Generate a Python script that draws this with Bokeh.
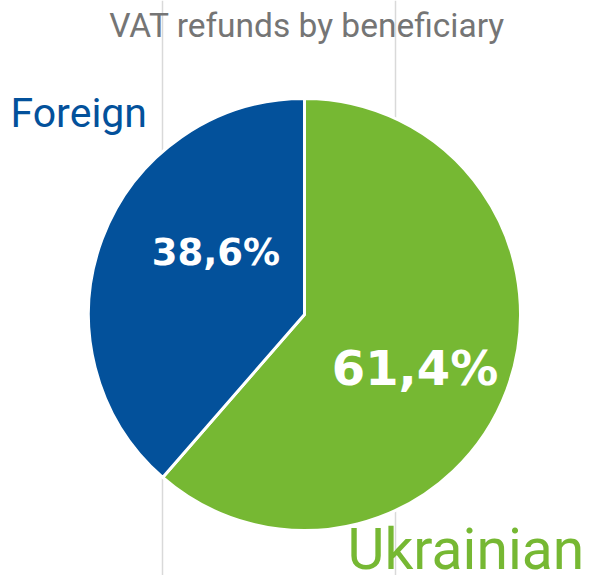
import math
from bokeh.plotting import figure
from bokeh.models import Range1d, ColumnDataSource, Span
from bokeh.core.properties import value
from bokeh.embed import file_html
from bokeh.resources import INLINE

# ---- data ----
categories = ["Ukrainian", "Foreign"]
shares = [61.4, 38.6]
slice_colors = ["#76B833", "#03519B"]
title_text = "VAT refunds by beneficiary"

# ---- layout (picture pixel coords; y data = 575 - picture y) ----
W, H = 592, 575
p = figure(width=W, height=H, output_backend="svg", toolbar_location=None,
           x_range=Range1d(0, W), y_range=Range1d(0, H),
           min_border=0, outline_line_color=None)
p.axis.visible = False
p.grid.visible = False
p.background_fill_color = "white"
p.border_fill_color = "white"

# light vertical gridlines behind the pie
for gx in (162, 395):
    p.add_layout(Span(location=gx, dimension="height", line_color="#d9d9d9",
                      line_width=1.5, level="underlay"))

cx, cy, r = 304, 261, 216
total = sum(shares)
starts, ends = [], []
cum = 0.0
for s in shares:
    starts.append(math.pi / 2 - 2 * math.pi * cum / total)
    cum += s
    ends.append(math.pi / 2 - 2 * math.pi * cum / total)

src = ColumnDataSource(dict(x=[cx] * len(shares), y=[cy] * len(shares),
                            start=starts, end=ends, color=slice_colors))
p.wedge(x="x", y="y", radius=r, radius_units="screen", start_angle="start",
        end_angle="end", direction="clock", fill_color="color",
        line_color="white", line_width=3, source=src)

def pct(v):
    return f"{v:.1f}".replace(".", ",") + "%"

# percentage labels
pct_x = [414.5, 215.5]
pct_y = [208, 323]
pct_size = ["48px", "37px"]
for i in range(len(shares)):
    p.text(x=[pct_x[i]], y=[pct_y[i]], text=[pct(shares[i])],
           text_font=value("DejaVu Sans"), text_font_style="bold",
           text_font_size=value(pct_size[i]), text_color="white",
           text_align="center", text_baseline="alphabetic")

# category labels
p.text(x=[347], y=[26], text=[categories[0]], text_font=value("Roboto"),
       text_font_size=value("57px"), text_color=slice_colors[0],
       text_align="left", text_baseline="alphabetic")
p.text(x=[10], y=[463], text=[categories[1]], text_font=value("Roboto"),
       text_font_size=value("41px"), text_color=slice_colors[1],
       text_align="left", text_baseline="alphabetic")

# title
p.text(x=[306.5], y=[550], text=[title_text], text_font=value("Roboto"),
       text_font_size=value("33.5px"), text_color="#757575",
       text_align="center", text_baseline="alphabetic")

open("out.html", "w").write(file_html(p, INLINE))
